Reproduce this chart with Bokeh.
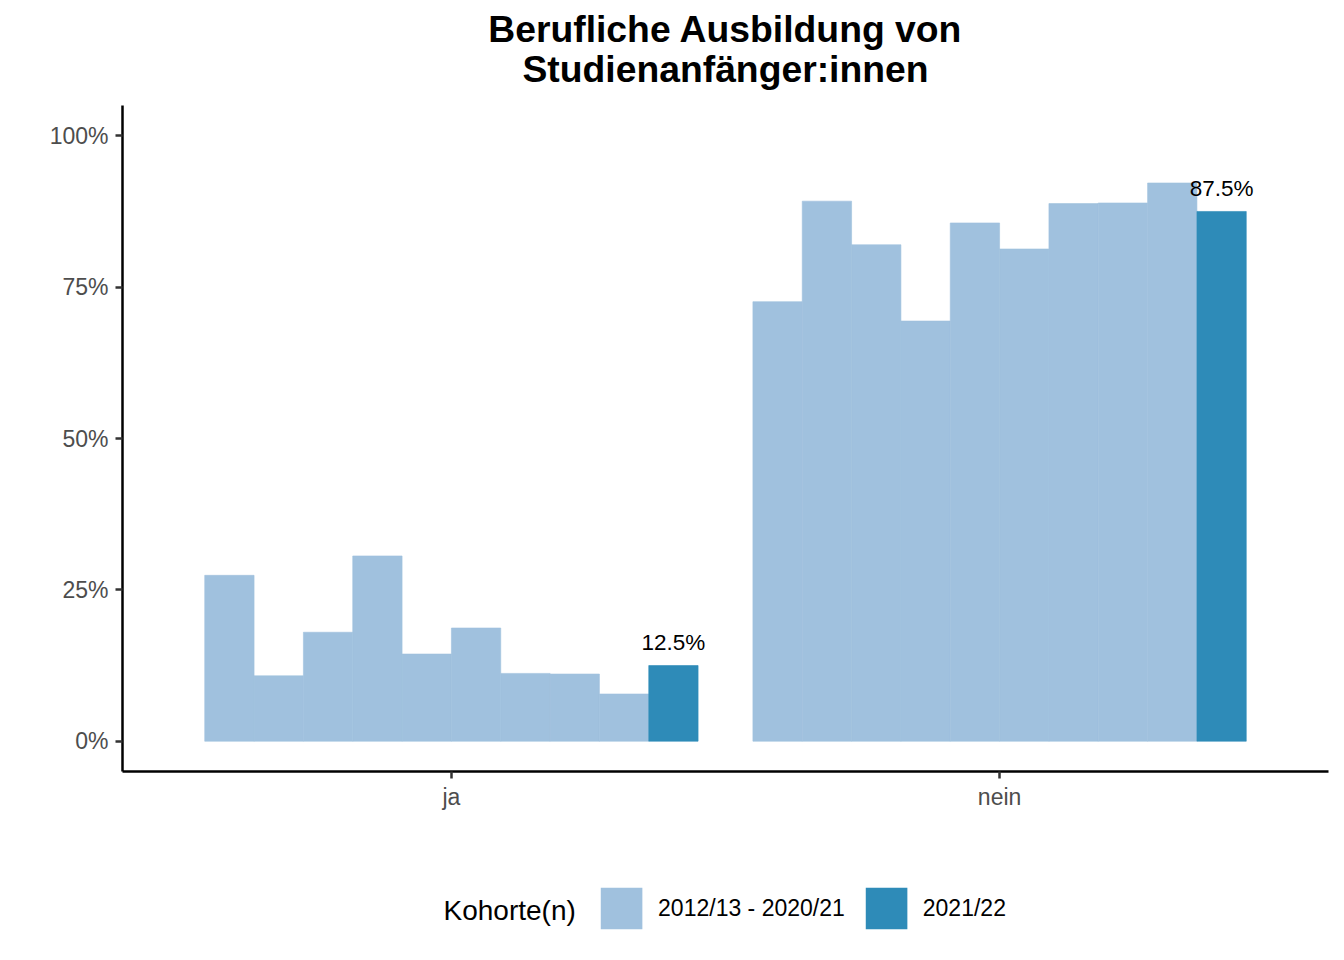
from bokeh.plotting import figure
from bokeh.layouts import column
from bokeh.models import ColumnDataSource, FixedTicker, Legend, LegendItem, Label, Range1d
from bokeh.core.properties import value
from bokeh.embed import file_html
from bokeh.resources import INLINE

# ---- data ----
categories = ["ja", "nein"]
cohorts = ["2012/13", "2013/14", "2014/15", "2015/16", "2016/17",
           "2017/18", "2018/19", "2019/20", "2020/21", "2021/22"]
ja_values = [27.4, 10.8, 18.0, 30.6, 14.4, 18.7, 11.2, 11.1, 7.8, 12.5]
nein_values = [72.6, 89.2, 82.0, 69.4, 85.6, 81.3, 88.8, 88.9, 92.2, 87.5]
y_ticks = [0, 25, 50, 75, 100]
y_tick_labels = ["0%", "25%", "50%", "75%", "100%"]
legend_labels = ["2012/13 - 2020/21", "2021/22"]
title_lines = ["Berufliche Ausbildung von", "Studienanfänger:innen"]
legend_title = "Kohorte(n)"

LIGHT = "#a0c1de"
DARK = "#2e8bb8"
FONT = "Liberation Sans"
W = 1336
X_RANGE = (0.4, 2.6)

# dodge layout (ggplot-like, total width 0.9)
n = len(cohorts)
dodge_total = 0.9
bw = dodge_total / n
values_by_cat = {"ja": ja_values, "nein": nein_values}

hist = dict(x=[], top=[])
cur = dict(x=[], top=[], lab=[])
for ci, cat in enumerate(categories):
    center = ci + 1
    for k, v in enumerate(values_by_cat[cat]):
        xpos = center - dodge_total / 2 + bw * (k + 0.5)
        if k < n - 1:
            hist["x"].append(xpos); hist["top"].append(v)
        else:
            cur["x"].append(xpos); cur["top"].append(v)
            cur["lab"].append(f"{v:.1f}%")


def bare(fig):
    fig.outline_line_color = None
    fig.background_fill_color = "white"
    fig.border_fill_color = "white"
    return fig


# ---- title strip ----
tfig = bare(figure(width=W, height=100, output_backend="svg", toolbar_location=None,
                   x_range=Range1d(*X_RANGE), y_range=Range1d(0, 100),
                   x_axis_location=None, y_axis_location=None,
                   min_border_left=122, min_border_right=8, min_border_top=0, min_border_bottom=0))
tfig.grid.visible = False
for line, yb in zip(title_lines, [72.0, 31.3]):
    tfig.add_layout(Label(x=sum(X_RANGE) / 2, y=yb, text=line, text_align="center",
                          text_baseline="alphabetic", text_font=FONT, text_font_size="37.3px",
                          text_font_style="bold", text_color="black"))

# ---- main chart ----
p = bare(figure(width=W, height=751, output_backend="svg", toolbar_location=None,
                x_range=Range1d(*X_RANGE), y_range=Range1d(-5, 105),
                min_border_left=122, min_border_right=8, min_border_top=5, min_border_bottom=80))
p.xgrid.visible = False
p.ygrid.visible = False

p.vbar(x="x", top="top", bottom=0, width=bw, source=ColumnDataSource(hist),
       fill_color=LIGHT, line_color=LIGHT, line_width=0.6)
p.vbar(x="x", top="top", bottom=0, width=bw, source=ColumnDataSource(cur),
       fill_color=DARK, line_color=DARK, line_width=0.6)
p.text(x="x", y="top", text="lab", source=ColumnDataSource(cur),
       text_align="center", text_baseline="alphabetic", y_offset=-23,
       text_font=value(FONT), text_font_size="22.5px", text_color="black")

for ax in (p.xaxis[0], p.yaxis[0]):
    ax.axis_line_width = 2.5
    ax.axis_line_color = "black"
    ax.major_tick_line_width = 2.5
    ax.major_tick_line_color = "#333333"
    ax.major_tick_out = 7
    ax.major_tick_in = 0
    ax.minor_tick_line_color = None
    ax.major_label_text_font = FONT
    ax.major_label_text_font_size = "23px"
    ax.major_label_text_color = "#4d4d4d"

p.xaxis[0].ticker = FixedTicker(ticks=[i + 1 for i in range(len(categories))])
p.xaxis[0].major_label_overrides = {i + 1: c for i, c in enumerate(categories)}
p.xaxis[0].major_label_standoff = 5
p.yaxis[0].ticker = FixedTicker(ticks=y_ticks)
p.yaxis[0].major_label_overrides = {t: l for t, l in zip(y_ticks, y_tick_labels)}
p.yaxis[0].major_label_standoff = 7

# ---- legend strip ----
lfig = bare(figure(width=W, height=101, output_backend="svg", toolbar_location=None,
                   x_range=Range1d(*X_RANGE), y_range=Range1d(0, 88),
                   x_axis_location=None, y_axis_location=None,
                   min_border_left=122, min_border_right=8, min_border_top=13, min_border_bottom=0))
lfig.grid.visible = False
# zero-height proxy glyphs: only their legend swatches are seen
proxy = dict(x=[X_RANGE[0]], top=[0])
l_blank = lfig.vbar(x="x", top="top", bottom=0, width=bw, source=ColumnDataSource(proxy),
                    fill_alpha=0, line_alpha=0)
l_hist = lfig.vbar(x="x", top="top", bottom=0, width=bw, source=ColumnDataSource(proxy),
                   fill_color=LIGHT, line_color=None)
l_cur = lfig.vbar(x="x", top="top", bottom=0, width=bw, source=ColumnDataSource(proxy),
                  fill_color=DARK, line_color=None)
legend = Legend(items=[LegendItem(label=" ", renderers=[l_blank]),
                       LegendItem(label=legend_labels[0], renderers=[l_hist]),
                       LegendItem(label=legend_labels[1], renderers=[l_cur])],
                orientation="horizontal", location="center",
                glyph_width=52, glyph_height=52, label_standoff=11, spacing=15, label_width=73,
                padding=0, margin=0, border_line_alpha=0, background_fill_alpha=0,
                label_text_font=FONT, label_text_font_size="23px", label_text_color="black")
lfig.add_layout(legend)
lfig.add_layout(Label(x=0.9856, y=42.5, text=legend_title, text_align="left", text_baseline="alphabetic",
                      text_font=FONT, text_font_size="28px", text_color="black"))

layout = column(tfig, p, lfig, spacing=0)
open("out.html", "w").write(file_html(layout, INLINE))
